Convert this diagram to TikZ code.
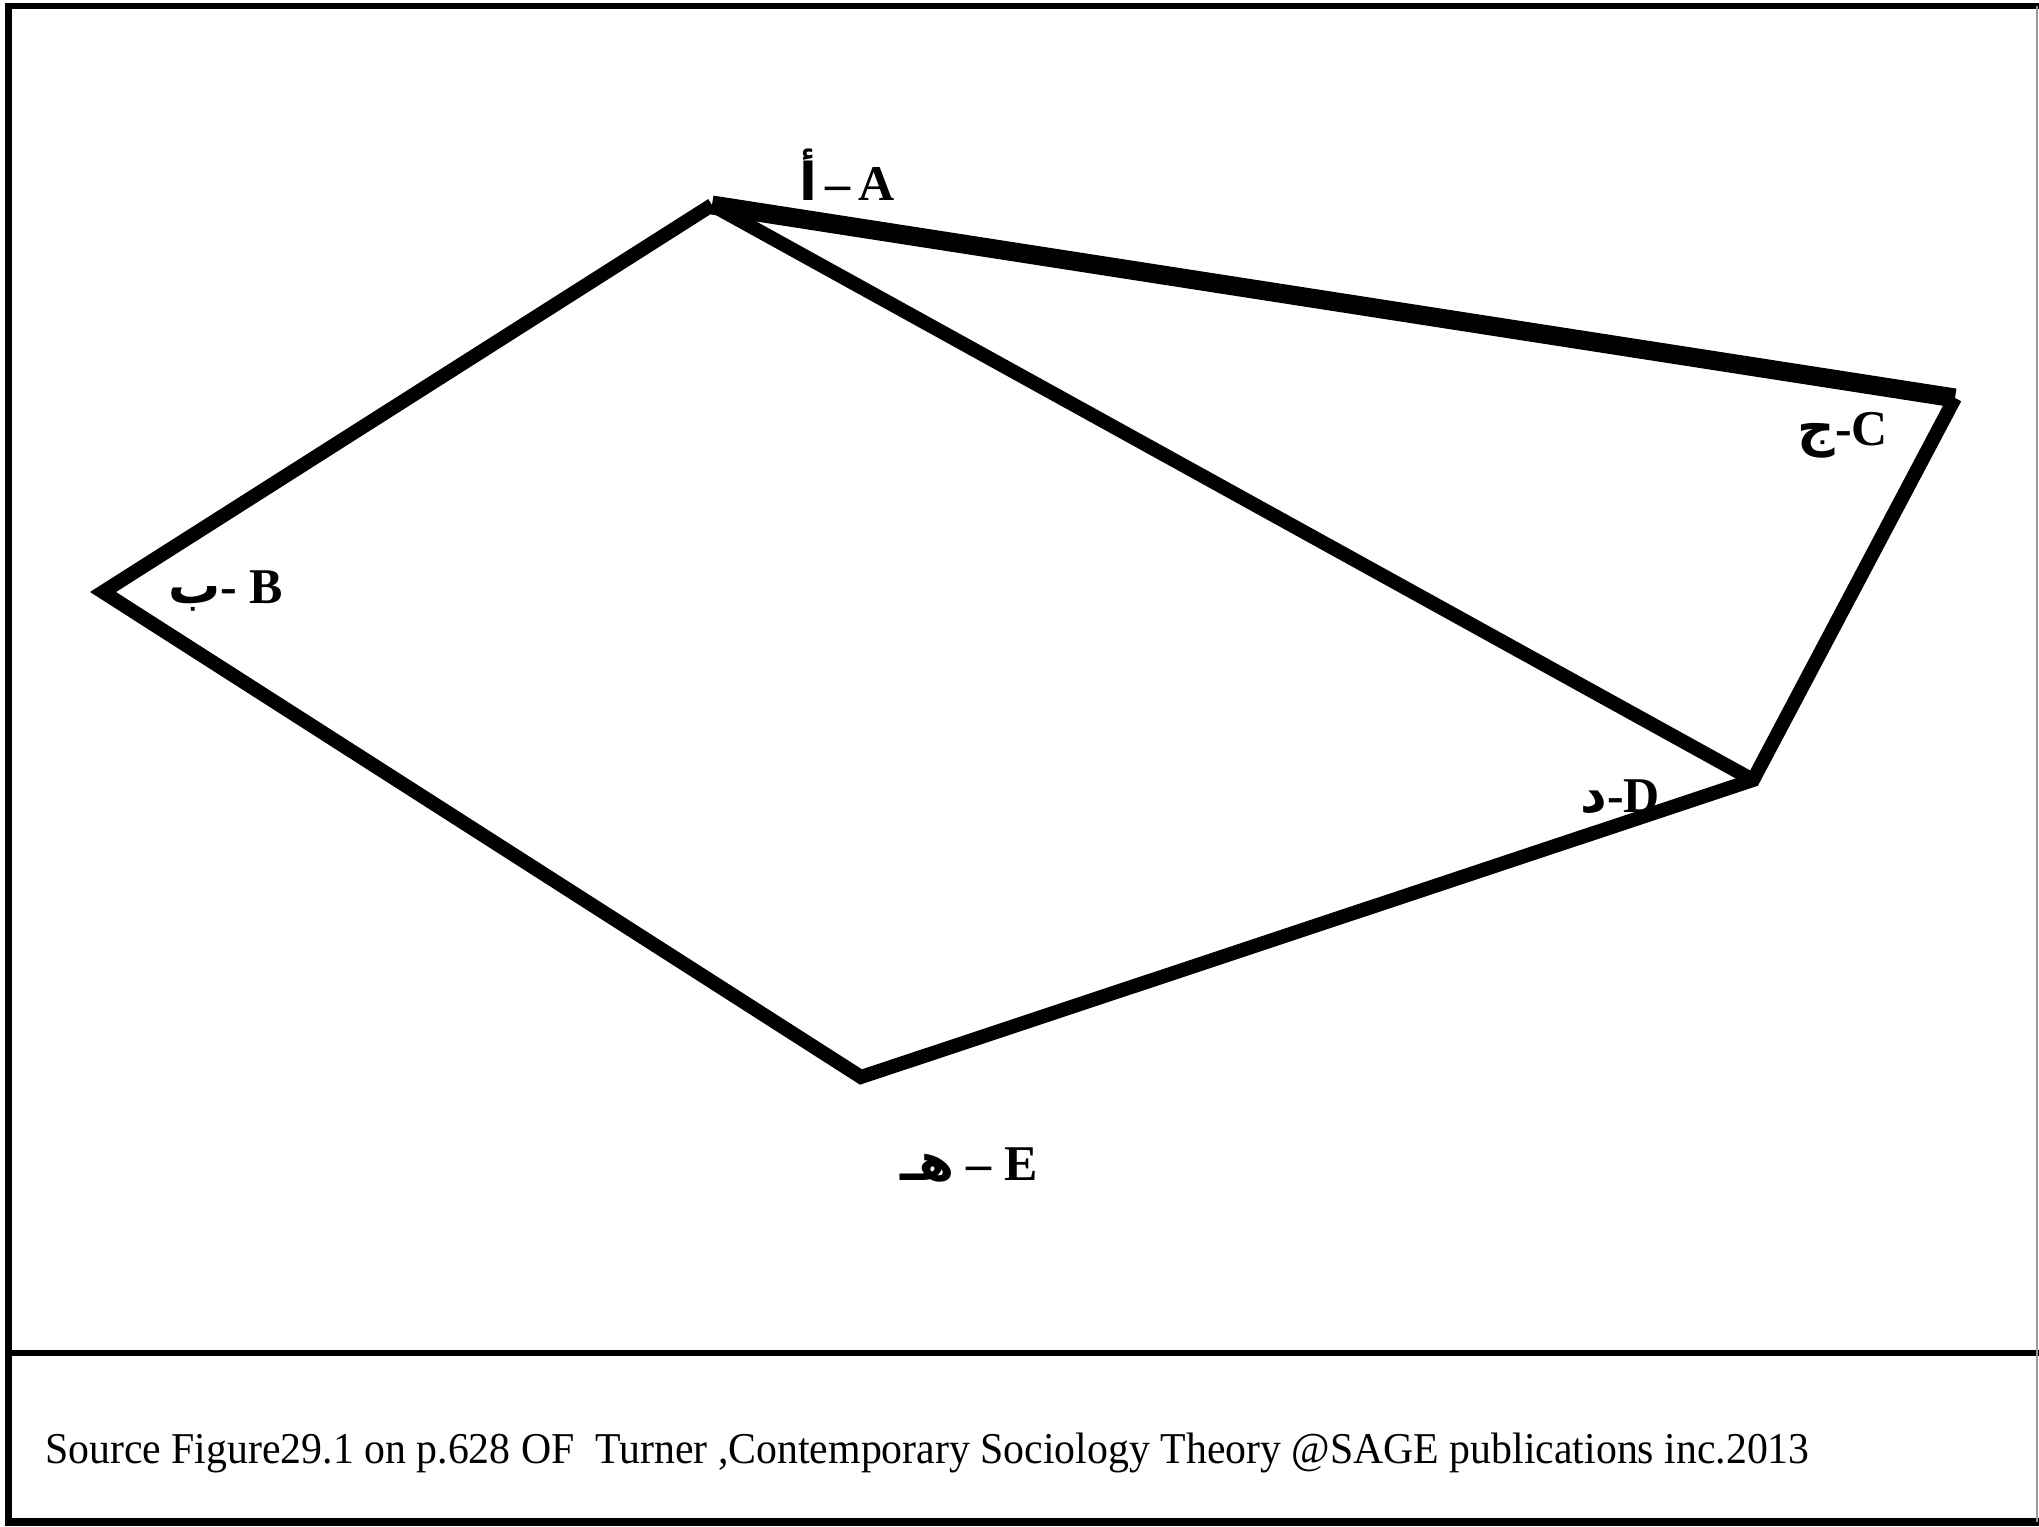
\documentclass[tikz,border=0pt]{standalone}
\usepackage{fontspec}
\setmainfont{Liberation Serif}
\newfontfamily\arfont[Script=Arabic]{DejaVu Sans}
\TeXXeTstate=1
\newcommand\arlab[1]{{\arfont\fontsize{52}{52}\selectfont\beginR #1\endR}}
\begin{document}
\begin{tikzpicture}[x=1pt,y=-1pt,
  edge/.style={line width=14pt,line join=miter,miter limit=6},
  thickedge/.style={line width=19pt,line join=miter},
  lab/.style={inner sep=0pt,font=\fontsize{50}{50}\selectfont\bfseries,anchor=base east},
  frameline/.style={line width=7pt}]
\useasboundingbox (0,0) rectangle (2039,1526);
\fill[white] (0,0) rectangle (2039,1526);
% frame
\draw[frameline] (8.5,3) -- (8.5,1526);
\draw[line width=6pt] (5,6) -- (2039,6);
\draw[line width=6pt] (5,1353) -- (2039,1353);
\draw[line width=8pt] (5,1522) -- (2039,1522);
\draw[line width=2pt,black!40] (2037,6) -- (2037,1522);
% vertices
\coordinate (A) at (712,205);
\coordinate (B) at (103,592);
\coordinate (C) at (1955,398);
\coordinate (D) at (1753,780);
\coordinate (E) at (861,1077);
% edges
\draw[edge] (A) -- (B) -- (E) -- (D) -- (C);
\draw[edge] (A) -- (D);
\draw[thickedge] (A) -- (C);
% labels
\node[lab] (la) at (895,200) {\arlab{أ}\,–\,A};
\node[lab] (lc) at (1888,445) {\arlab{ج}-C};
\node[lab] (lb) at (283,603) {\arlab{ب}- B};
\node[lab] (ld) at (1660,812) {\arlab{د}-D};
\node[lab] (le) at (1038,1180) {\arlab{هـ} – E};
% caption
\node[inner sep=0pt,anchor=base west,font=\fontsize{44}{44}\selectfont] (cap) at (45,1463)
  {\scalebox{0.95}[1]{Source Figure29.1 on p.628 OF\ \ Turner ,Contemporary Sociology Theory @SAGE publications inc.2013}};
\end{tikzpicture}
\end{document}
